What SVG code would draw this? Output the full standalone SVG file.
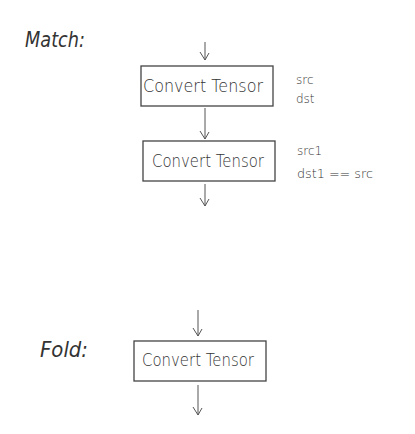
<svg xmlns="http://www.w3.org/2000/svg" width="415" height="434" viewBox="0 0 415 434">
<defs>
<marker id="ah" markerWidth="10" markerHeight="12" refX="9" refY="6" orient="auto" markerUnits="userSpaceOnUse" viewBox="0 0 10 12">
<path d="M2,2 L9,6 L1,11" fill="none" stroke="#555" stroke-width="1"/>
</marker>
<style>
.box{fill:#fff;stroke:#444;stroke-width:1.3}
.t{font-family:"DejaVu Sans","Liberation Sans",sans-serif;font-weight:200;fill:#333}
.lbl{font-size:17px}
.n{font-size:12px}
.edge{stroke:#555;stroke-width:1;fill:none;marker-end:url(#ah)}
</style>
</defs>
<rect width="415" height="434" fill="#fff"/>
<text class="t" x="25" y="47" font-size="21" font-style="italic" textLength="60" lengthAdjust="spacingAndGlyphs">Match:</text>
<text class="t" x="40" y="357" font-size="21" font-style="italic" textLength="48" lengthAdjust="spacingAndGlyphs">Fold:</text>
<g id="connectors">
<path class="edge" d="M205,42 L205,60"/>
<path class="edge" d="M205,108 L205,139"/>
<path class="edge" d="M205,184 L205,206"/>
<path class="edge" d="M198,310 L198,336"/>
<path class="edge" d="M198,385 L198,415"/>
</g>
<g id="node1">
<rect class="box" x="141" y="66" width="132" height="40"/>
<text class="t lbl" x="143" y="92" textLength="120" lengthAdjust="spacingAndGlyphs">Convert Tensor</text>
</g>
<g id="node2">
<rect class="box" x="143" y="141" width="132" height="40"/>
<text class="t lbl" x="152" y="167" textLength="112" lengthAdjust="spacingAndGlyphs">Convert Tensor</text>
</g>
<g id="node3">
<rect class="box" x="134" y="341" width="132" height="40"/>
<text class="t lbl" x="142" y="366" textLength="112" lengthAdjust="spacingAndGlyphs">Convert Tensor</text>
</g>
<text class="t n" x="296" y="84">src</text>
<text class="t n" x="296" y="103">dst</text>
<text class="t n" x="297" y="155">src1</text>
<text class="t n" x="297" y="178" font-size="13" textLength="76" lengthAdjust="spacingAndGlyphs">dst1 == src</text>
</svg>
